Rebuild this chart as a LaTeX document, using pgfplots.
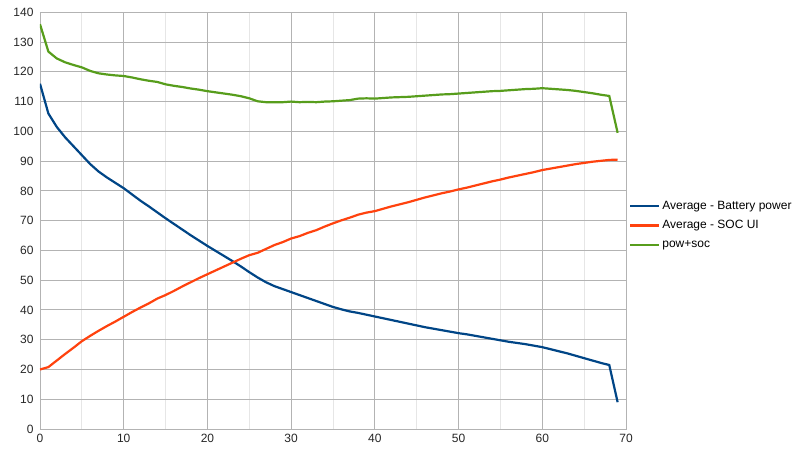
\documentclass[border=0pt]{standalone}
\usepackage{pgfplots}
\pgfplotsset{compat=1.18}
\usepackage{fontspec}
\setmainfont{Liberation Sans}
\definecolor{cblue}{HTML}{004586}
\definecolor{corange}{HTML}{FF420E}
\definecolor{cgreen}{HTML}{579D1C}
\definecolor{gridc}{HTML}{B3B3B3}
\definecolor{mgridc}{HTML}{E6E6E6}
\pgfplotstableread{
x bat soc
0 116 20
1 106 20.8
2 101.5 23
3 98 25.2
4 95 27.3
5 92 29.5
6 89 31.3
7 86.5 33
8 84.5 34.6
9 82.7 36.1
10 80.9 37.7
11 78.8 39.3
12 76.7 40.8
13 74.8 42.2
14 72.8 43.8
15 70.8 45
16 68.9 46.4
17 67 47.9
18 65.1 49.3
19 63.3 50.7
20 61.5 52
21 59.8 53.3
22 58.1 54.6
23 56.4 55.9
24 54.6 57.2
25 52.7 58.4
26 50.9 59.2
27 49.3 60.5
28 48 61.8
29 47 62.8
30 46 64
31 45 64.8
32 44 65.9
33 43 66.8
34 42 68
35 41 69.1
36 40.2 70.1
37 39.5 71
38 39 72
39 38.4 72.7
40 37.8 73.2
41 37.2 74
42 36.6 74.8
43 36 75.5
44 35.4 76.2
45 34.8 77
46 34.2 77.8
47 33.7 78.5
48 33.2 79.2
49 32.7 79.8
50 32.2 80.5
51 31.8 81.1
52 31.3 81.8
53 30.8 82.5
54 30.3 83.2
55 29.8 83.8
56 29.3 84.5
57 28.9 85.1
58 28.5 85.7
59 28 86.3
60 27.5 87
61 26.8 87.5
62 26.1 88
63 25.4 88.5
64 24.6 89
65 23.8 89.4
66 23 89.8
67 22.2 90.1
68 21.5 90.4
69 9 90.5
}\datatab
\pgfplotstableread{
x sum
0 136
1 126.8
2 124.5
3 123.2
4 122.3
5 121.5
6 120.3
7 119.5
8 119.1
9 118.8
10 118.6
11 118.1
12 117.5
13 117.0
14 116.6
15 115.8
16 115.3
17 114.9
18 114.4
19 114.0
20 113.5
21 113.1
22 112.7
23 112.3
24 111.8
25 111.1
26 110.1
27 109.8
28 109.8
29 109.8
30 110.0
31 109.8
32 109.9
33 109.8
34 110.0
35 110.1
36 110.3
37 110.5
38 111.0
39 111.1
40 111.0
41 111.2
42 111.4
43 111.5
44 111.6
45 111.8
46 112.0
47 112.2
48 112.4
49 112.5
50 112.7
51 112.9
52 113.1
53 113.3
54 113.5
55 113.6
56 113.8
57 114.0
58 114.2
59 114.3
60 114.5
61 114.3
62 114.1
63 113.9
64 113.6
65 113.2
66 112.8
67 112.3
68 111.9
69 99.5
}\sumtab
\begin{document}
\begin{tikzpicture}
\useasboundingbox (-40pt,-24pt) rectangle (760pt,429pt);
\begin{axis}[
  scale only axis,
  width=586pt, height=416.7pt,
  xmin=0, xmax=70, ymin=0, ymax=140,
  xtick={0,10,...,70}, ytick={0,10,...,140},
  minor xtick={5,15,...,65},
  grid=both,
  major grid style={gridc, line width=0.9pt},
  minor grid style={mgridc, line width=0.8pt},
  axis line style={gridc, line width=0.9pt},
  major tick length=0pt, minor tick length=0pt,
  tick label style={font=\fontsize{12}{14}\selectfont, text=black!85},
  /pgf/number format/assume math mode=true,
  xticklabel style={yshift=-2pt},
  yticklabel style={xshift=-3pt},
  legend style={at={(rel axis cs:1.005,0.49)}, anchor=west, draw=none, fill=none,
    font=\fontsize{12}{14}\selectfont, row sep=6pt, inner sep=0pt,
    /tikz/every even column/.append style={column sep=3pt}},
  legend cell align=left,
  legend image code/.code={\draw[#1] (0pt,0pt) -- (29pt,0pt);},
]
\addplot[cblue, line width=2.2pt] table[x=x, y=bat] {\datatab};
\addlegendentry{Average - Battery power}
\addplot[corange, line width=2.2pt] table[x=x, y=soc] {\datatab};
\addlegendentry{Average - SOC UI}
\addplot[cgreen, line width=2.2pt] table[x=x, y=sum] {\sumtab};
\addlegendentry{pow+soc}
\end{axis}
\end{tikzpicture}
\end{document}
